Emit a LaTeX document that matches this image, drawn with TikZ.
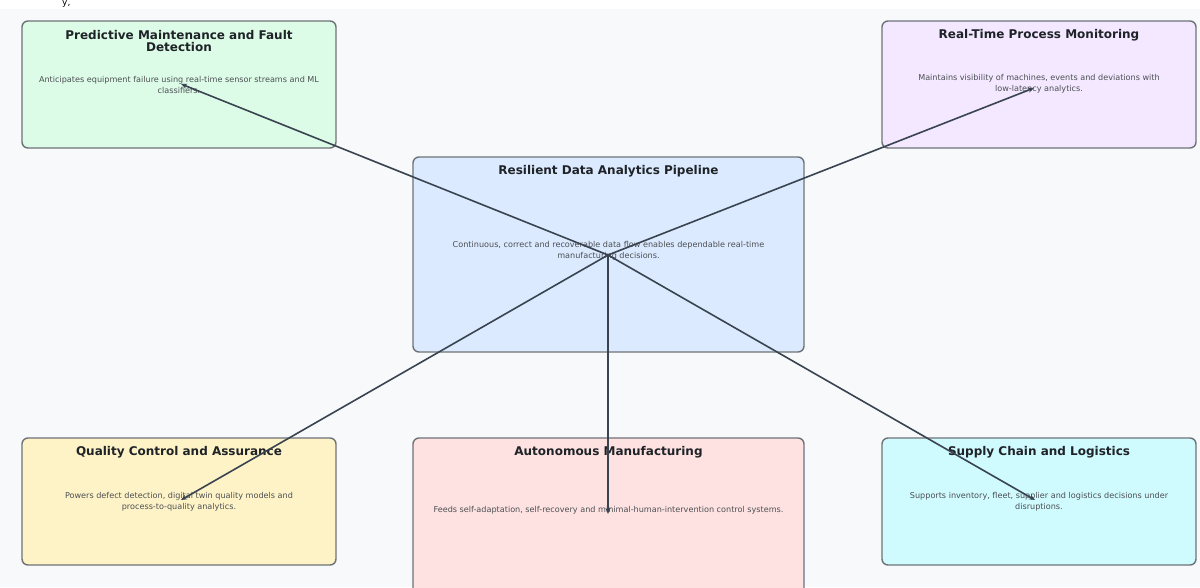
\documentclass[tikz,border=0pt]{standalone}
\usepackage{fontspec}
\setmainfont{DejaVu Sans}
\usetikzlibrary{arrows.meta}

\definecolor{pagebg}{HTML}{F7F9FB}
\definecolor{edgegray}{HTML}{6E7378}
\definecolor{linkcol}{HTML}{3A4350}
\definecolor{txtcol}{HTML}{1F2328}
\definecolor{fgreen}{HTML}{DCFCE7}
\definecolor{fviolet}{HTML}{F3E8FF}
\definecolor{fblue}{HTML}{DBEAFE}
\definecolor{fyellow}{HTML}{FEF3C7}
\definecolor{fpink}{HTML}{FEE2E2}
\definecolor{fcyan}{HTML}{CFFAFE}

\tikzset{
  panel/.style={draw=edgegray, line width=1.4pt, rounded corners=6pt, inner sep=0pt},
  small/.style={panel, minimum width=314pt, minimum height=127pt},
  wide/.style={panel, minimum width=391pt},
  heading/.style={font=\fontsize{12}{12.5}\selectfont\bfseries, text=txtcol, align=center, inner sep=0pt},
  blurb/.style={font=\fontsize{8.1}{10.8}\selectfont, text=txtcol!80, align=center, inner sep=0pt},
  link/.style={draw=linkcol, line width=1.6pt, -{Stealth[length=6pt,width=5pt]}}
}

\begin{document}
\begin{tikzpicture}[x=1pt,y=-1pt]
  \useasboundingbox (0,0) rectangle (1200,587);
  \fill[white] (0,0) rectangle (1200,587);
  \fill[pagebg] (0,9) rectangle (1200,587);

  % short text fragment in the top margin
  \node[anchor=north west, inner sep=0pt, font=\fontsize{9}{9}\selectfont] (frag) at (62,0.3) {y,};

  % panels
  \node[small, fill=fgreen]  (pm)  at (179,84.5)  {};
  \node[small, fill=fviolet] (rt)  at (1039,84.5) {};
  \node[wide, fill=fblue, minimum height=195pt] (hubbox) at (608.5,254.5) {};
  \node[small, fill=fyellow] (qc)  at (179,501.5) {};
  \node[wide, fill=fpink, minimum height=160pt] (am) at (608.5,518) {};
  \node[small, fill=fcyan]   (sc)  at (1039,501.5) {};

  % headings
  \node[heading] (pmT)  at (179,41)   {Predictive Maintenance and Fault\\Detection};
  \node[heading] (rtT)  at (1039,35)  {Real-Time Process Monitoring};
  \node[heading] (hubT) at (608.5,171) {Resilient Data Analytics Pipeline};
  \node[heading] (qcT)  at (179,452)  {Quality Control and Assurance};
  \node[heading] (amT)  at (608.5,452) {Autonomous Manufacturing};
  \node[heading] (scT)  at (1039,452) {Supply Chain and Logistics};

  % descriptions
  \node[blurb] (pmD)  at (179,85)    {Anticipates equipment failure using real-time sensor streams and ML\\classifiers.};
  \node[blurb] (rtD)  at (1039,84)   {Maintains visibility of machines, events and deviations with\\low-latency analytics.};
  \node[blurb] (hubD) at (608.5,250.5) {Continuous, correct and recoverable data flow enables dependable real-time\\manufacturing decisions.};
  \node[blurb] (qcD)  at (179,501.5) {Powers defect detection, digital twin quality models and\\process-to-quality analytics.};
  \node[blurb] (amD)  at (608.5,510) {Feeds self-adaptation, self-recovery and minimal-human-intervention control systems.};
  \node[blurb] (scD)  at (1039,501.5) {Supports inventory, fleet, supplier and logistics decisions under\\disruptions.};

  % link end points
  \coordinate (hub)  at (608,255);
  \coordinate (pmE)  at (181,84);
  \coordinate (rtE)  at (1034,88);
  \coordinate (qcE)  at (181,500);
  \coordinate (amE)  at (608,514);
  \coordinate (scE)  at (1035,500);

  % links from the pipeline to each application area
  \draw[link] (hub) -- (pmE);
  \draw[link] (hub) -- (rtE);
  \draw[link] (hub) -- (qcE);
  \draw[link] (hub) -- (amE);
  \draw[link] (hub) -- (scE);
\end{tikzpicture}
\end{document}
